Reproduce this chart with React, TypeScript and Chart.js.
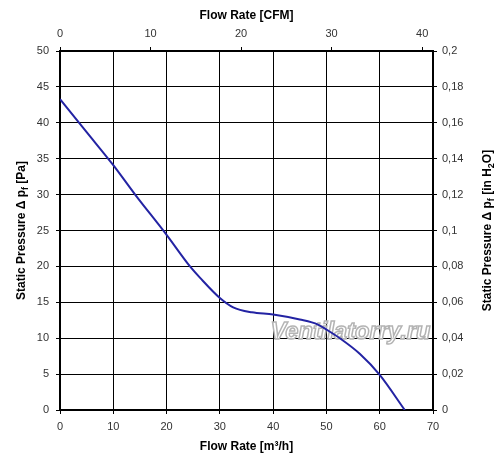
import React, { useEffect, useRef } from "react";
import { Chart, registerables } from "chart.js";

Chart.register(...registerables);

const FONT = '"Liberation Sans", Arial, sans-serif';

// Fan curve: flow rate [m³/h] vs static pressure [Pa]
const flowM3h = [0, 5, 10, 14.1, 20, 24.4, 26.3, 30, 32.5, 36, 40, 45, 48.4, 50, 52.5, 56.3, 60, 64.7];
const pressurePa = [43.3, 38.7, 34.1, 30, 24.4, 20, 18.4, 15.6, 14.3, 13.6, 13.3, 12.6, 11.9, 11.2, 10.0, 7.8, 4.9, 0];

const xMax = 70;
const yMax = 50;
const cfmPerM3h = 1 / 1.699;
const inH2OMax = 0.2;
const cfmTicks = [0, 10, 20, 30, 40];

const bottomTitle = "Flow Rate [m³/h]";
const topTitle = "Flow Rate [CFM]";
const leftTitleParts = [
  { t: "Static Pressure Δ p" },
  { t: "f", sub: true },
  { t: " [Pa]" },
];
const rightTitleParts = [
  { t: "Static Pressure Δ p" },
  { t: "f", sub: true },
  { t: " [in H" },
  { t: "2", sub: true },
  { t: "O]" },
];
const watermark = "Ventilatorry.ru";

type Part = { t: string; sub?: boolean };

function drawRich(ctx: CanvasRenderingContext2D, cx: number, cy: number, parts: Part[], size: number) {
  ctx.save();
  ctx.translate(cx, cy);
  ctx.rotate(-Math.PI / 2);
  const main = `bold ${size}px ${FONT}`;
  const sub = `bold ${Math.round(size * 0.72)}px ${FONT}`;
  let total = 0;
  const widths = parts.map((p) => {
    ctx.font = p.sub ? sub : main;
    const w = ctx.measureText(p.t).width;
    total += w;
    return w;
  });
  let x = -total / 2;
  ctx.textBaseline = "middle";
  ctx.textAlign = "left";
  ctx.fillStyle = "#000";
  parts.forEach((p, i) => {
    ctx.font = p.sub ? sub : main;
    ctx.fillText(p.t, x, p.sub ? size * 0.3 : 0);
    x += widths[i];
  });
  ctx.restore();
}

const titlesPlugin = {
  id: "sideTitles",
  beforeDatasetsDraw(chart: any) {
    const { ctx, scales } = chart;
    ctx.save();
    const cx = scales.x.getPixelForValue(54.5);
    const by = scales.y.getPixelForValue(10);
    let size = 24;
    ctx.font = `italic bold ${size}px ${FONT}`;
    const w = ctx.measureText(watermark).width;
    size = (size * 160) / w;
    ctx.font = `italic bold ${size}px ${FONT}`;
    ctx.textAlign = "center";
    ctx.textBaseline = "alphabetic";
    ctx.fillStyle = "rgba(255,255,255,0.9)";
    ctx.strokeStyle = "#b4b4b4";
    ctx.lineWidth = 1.5;
    ctx.fillText(watermark, cx, by + 1);
    ctx.strokeText(watermark, cx, by + 1);
    ctx.restore();
  },
  afterDraw(chart: any) {
    const { ctx, chartArea } = chart;
    const cy = (chartArea.top + chartArea.bottom) / 2;
    drawRich(ctx, 22, cy, leftTitleParts, 12);
    drawRich(ctx, 488, cy, rightTitleParts, 12);
  },
};

export default function App() {
  const ref = useRef<HTMLCanvasElement | null>(null);

  useEffect(() => {
    if (!ref.current) return;
    const tickFont = { family: FONT, size: 11 };
    const titleFont = { family: FONT, size: 12, weight: "bold" as const };
    const chart = new Chart(ref.current, {
      type: "line",
      data: {
        datasets: [
          {
            data: flowM3h.map((x, i) => ({ x, y: pressurePa[i] })),
            borderColor: "#2323a3",
            borderWidth: 2,
            pointRadius: 0,
            cubicInterpolationMode: "monotone",
            xAxisID: "x",
            yAxisID: "y",
          },
        ],
      },
      options: {
        responsive: false,
        animation: false,
        layout: { padding: 0 },
        plugins: { legend: { display: false }, tooltip: { enabled: false } },
        scales: {
          x: {
            type: "linear",
            position: "bottom",
            min: 0,
            max: xMax,
            ticks: { stepSize: 10, font: tickFont, color: "#333", padding: 6 },
            grid: { color: "#000", lineWidth: 1, tickLength: 4 },
            border: { color: "#000", width: 2 },
            title: { display: true, text: bottomTitle, font: titleFont, color: "#000", padding: { top: 0, bottom: 6 } },
            afterFit: (s: any) => { s.height = 50; },
          },
          x2: {
            type: "linear",
            position: "top",
            min: 0,
            max: xMax * cfmPerM3h,
            ticks: { font: tickFont, color: "#333", padding: 6, autoSkip: false },
            afterBuildTicks: (s: any) => { s.ticks = cfmTicks.map((value) => ({ value })); },
            grid: { drawOnChartArea: false, color: "#000", lineWidth: 1, tickLength: 4 },
            border: { color: "#000", width: 2 },
            title: { display: true, text: topTitle, font: titleFont, color: "#000", padding: { top: 8, bottom: 0 } },
            afterFit: (s: any) => { s.height = 51; },
          },
          y: {
            type: "linear",
            position: "left",
            min: 0,
            max: yMax,
            ticks: { stepSize: 5, font: tickFont, color: "#333", padding: 7 },
            grid: { color: "#000", lineWidth: 1, tickLength: 4 },
            border: { color: "#000", width: 2 },
            afterFit: (s: any) => { s.width = 60; },
          },
          y2: {
            type: "linear",
            position: "right",
            min: 0,
            max: inH2OMax,
            ticks: {
              stepSize: 0.02,
              font: tickFont,
              color: "#333",
              padding: 5,
              callback: (v: any) => String(+Number(v).toFixed(2)).replace(".", ","),
            },
            grid: { drawOnChartArea: false, color: "#000", lineWidth: 1, tickLength: 4 },
            border: { color: "#000", width: 2 },
            afterFit: (s: any) => { s.width = 67; },
          },
        },
      },
      plugins: [titlesPlugin],
    });
    return () => chart.destroy();
  }, []);

  return (
    <div style={{ position: "fixed", left: 0, top: 0, width: 500, height: 460, background: "#fff" }}>
      <canvas ref={ref} width={500} height={460} style={{ display: "block" }} />
    </div>
  );
}
